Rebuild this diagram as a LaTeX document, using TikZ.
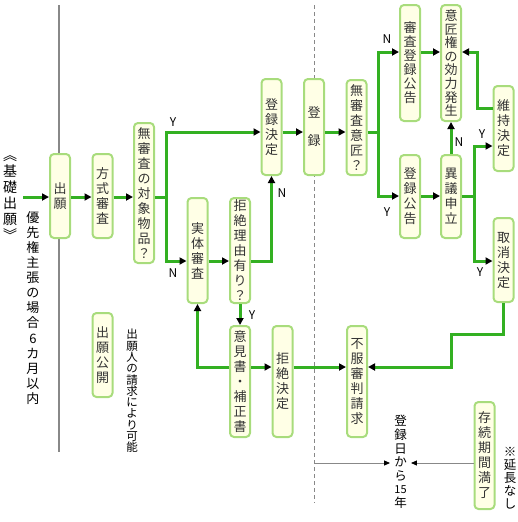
\documentclass[tikz,border=0pt]{standalone}
\usepackage{fontspec}
\setmainfont{Noto Sans CJK JP}
\usetikzlibrary{arrows.meta}
\definecolor{bfill}{HTML}{FFFFE6}
\definecolor{bdraw}{HTML}{A8DC7C}
\definecolor{gline}{HTML}{33B022}
\definecolor{txt}{HTML}{333333}
\definecolor{rule}{HTML}{888888}
\begin{document}
\begin{tikzpicture}[x=1pt,y=-1pt,
  box/.style={draw=bdraw, fill=bfill, line width=2pt, rounded corners=4pt,
    minimum width=20pt, inner sep=0pt, align=center,
    font=\fontsize{13}{15}\selectfont, text=txt},
  gl/.style={draw=gline, line width=3pt},
  ga/.style={gl, -{Triangle[length=7pt,width=7pt,color=black]}},
  gaa/.style={gl, {Triangle[length=7pt,width=7pt,color=black]}-{Triangle[length=7pt,width=7pt,color=black]}},
  tarr/.style={draw=rule, line width=1pt, -{Triangle[length=6pt,width=5pt,color=black]}},
  yn/.style={font=\fontsize{12}{14}\selectfont, inner sep=0pt, text=black},
  vt/.style={align=center, inner sep=0pt, text=black},
]
\useasboundingbox (0,0) rectangle (517,522);

% vertical rules
\coordinate (ls) at (59,5);
\coordinate (le) at (59,452);
\draw[rule, line width=1.3pt] (ls) -- (le);
\coordinate (ds) at (314,5);
\coordinate (de) at (314,503);
\draw[rule, line width=1pt, dash pattern=on 4pt off 3pt] (ds) -- (de);

% boxes
\node[box, minimum height=84pt] (sg) at (60,196) {出\\願};
\node[box, minimum height=84pt] (hs) at (102.5,196) {方\\式\\審\\査};
\node[box, minimum height=140pt] (mt) at (144,193) {無\\審\\査\\の\\対\\象\\物\\品\\？};
\node[box, minimum height=84pt] (kai) at (102.5,355) {出\\願\\公\\開};
\node[box, minimum height=105pt] (jt) at (197.5,250.5) {実\\体\\審\\査};
\node[box, minimum height=105pt] (kr) at (240,250.5) {拒\\絶\\理\\由\\有\\り\\？};
\node[box, minimum height=96pt] (tk) at (271.5,127) {登\\録\\決\\定};
\node[box, minimum height=96pt] (tr) at (314,127) {登\\[13pt]録};
\node[box, minimum height=111pt] (ik) at (240,381.5) {意\\見\\書\\・\\補\\正\\書};
\node[box, minimum height=111pt] (kt) at (282.5,381.5) {拒\\絶\\決\\定};
\node[box, minimum height=95pt] (mi) at (356.5,127.5) {無\\審\\査\\意\\匠\\？};
\node[box, minimum height=116pt, font=\fontsize{13}{14}\selectfont] (sk) at (410,63) {審\\査\\登\\録\\公\\告};
\node[box, minimum height=116pt, font=\fontsize{13}{13.6}\selectfont] (ek) at (451,63) {意\\匠\\権\\の\\効\\力\\発\\生};
\node[box, minimum height=83pt] (tkk) at (410,196.5) {登\\録\\公\\告};
\node[box, minimum height=83pt] (ig) at (451,196.5) {異\\議\\申\\立};
\node[box, minimum height=85pt] (ij) at (503.5,128.5) {維\\持\\決\\定};
\node[box, minimum height=84pt] (tor) at (503.5,260) {取\\消\\決\\定};
\node[box, minimum height=111pt] (ff) at (357,381.5) {不\\服\\審\\判\\請\\求};
\node[box, minimum height=107pt] (sz) at (484.5,455.5) {存\\続\\期\\間\\満\\了};

% free texts
\node[vt, font=\fontsize{14}{16}\selectfont] (kiso) at (10,198) {︽\\基\\礎\\出\\願\\︾};
\node[vt, font=\fontsize{13}{15.1}\selectfont] (yu) at (33,308) {優\\先\\権\\主\\張\\の\\場\\合\\6\\カ\\月\\以\\内};
\node[vt, font=\fontsize{11.5}{11.3}\selectfont] (sei) at (132,391) {出\\願\\人\\の\\請\\求\\に\\よ\\り\\可\\能};
\node[vt, font=\fontsize{12.5}{13.6}\selectfont] (t15) at (400.5,462) {登\\録\\日\\か\\ら\\{\fontsize{11}{13}\selectfont 15}\\年};
\node[vt, font=\fontsize{12.5}{13}\selectfont] (en) at (510,478) {※\\延\\長\\な\\し};

% main flow
\coordinate (s0) at (23,197);
\draw[ga] (s0) -- (sg.west |- s0);
\draw[ga] (sg.east |- s0) -- (hs.west |- s0);
\draw[ga] (hs.east |- s0) -- (mt.west |- s0);

\coordinate (b1) at (166,197);
\coordinate (b1t) at (166,132);
\coordinate (b1b) at (166,261);
\draw[gl] (mt.east |- b1) -- (b1);
\draw[gaa] (jt.west |- b1b) -- (b1b) -- (b1t) -- (tk.west |- b1t);
\node[yn] (y1) at (173,122) {Y};
\node[yn] (n1) at (173,273) {N};

\draw[ga] (jt.east |- b1b) -- (kr.west |- b1b);
\draw[ga] (kr.east |- b1b) -| (tk.south);
\node[yn] (n2) at (282,193) {N};
\draw[ga] (kr.south) -- (ik.north);
\node[yn] (y2) at (252,315) {Y};

\coordinate (r1) at (0,367);
\draw[ga] (ik.west |- r1) -| (jt.south);
\draw[ga] (ik.east |- r1) -- (kt.west |- r1);
\draw[ga] (kt.east |- r1) -- (ff.west |- r1);

\coordinate (t1) at (0,132);
\draw[ga] (tk.east |- t1) -- (tr.west |- t1);
\draw[ga] (tr.east |- t1) -- (mi.west |- t1);

\coordinate (b2) at (378,132);
\coordinate (b2t) at (378,52);
\coordinate (b2b) at (378,196);
\draw[gl] (mi.east |- b2) -- (b2);
\draw[gaa] (sk.west |- b2t) -- (b2t) -- (b2b) -- (tkk.west |- b2b);
\node[yn] (n3) at (387,39) {N};
\node[yn] (y3) at (387,212) {Y};
\draw[ga] (sk.east |- b2t) -- (ek.west |- b2t);
\draw[ga] (tkk.east |- b2b) -- (ig.west |- b2b);
\draw[ga] (ig.north) -- (ek.south);
\node[yn] (n4) at (459,142) {N};

\coordinate (c1) at (477,108);
\draw[ga] (ij.west |- c1) -- (c1) |- (ek.east |- b2t);

\coordinate (b3) at (474,196);
\coordinate (b3t) at (474,146);
\coordinate (b3b) at (474,261);
\draw[gl] (ig.east |- b3) -- (b3);
\draw[gaa] (ij.west |- b3t) -- (b3t) -- (b3b) -- (tor.west |- b3b);
\node[yn] (y4) at (482,134) {Y};
\node[yn] (y5) at (480,272) {Y};

\coordinate (d1) at (451,334);
\draw[ga] (tor.south) |- (d1) |- (ff.east |- r1);

% term arrows
\coordinate (g1) at (314,463);
\draw[tarr, shorten >=4pt] (g1) -- (t15.west |- g1);
\draw[tarr, shorten >=4pt] (sz.west |- g1) -- (t15.east |- g1);
\end{tikzpicture}
\end{document}
